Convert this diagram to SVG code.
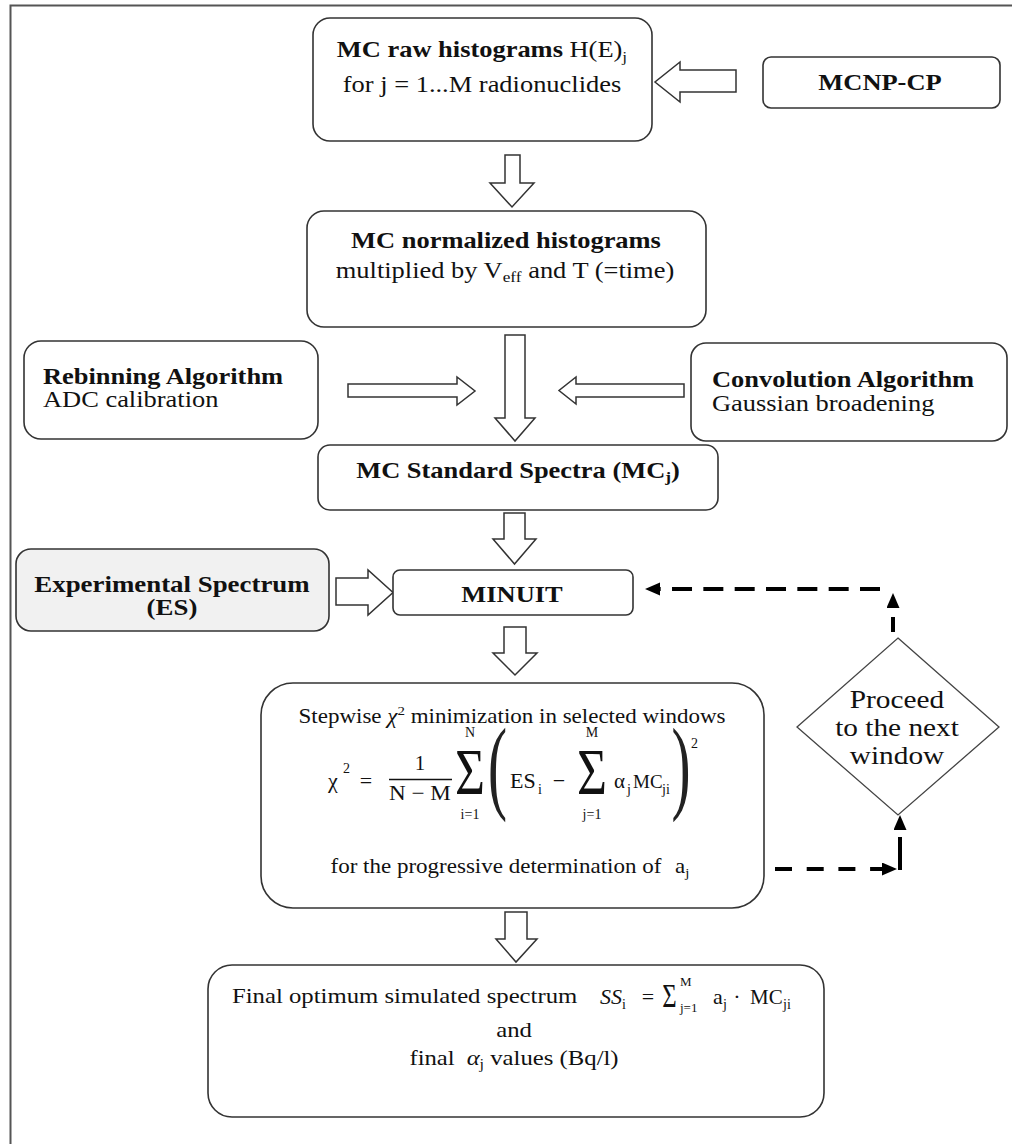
<svg xmlns="http://www.w3.org/2000/svg" width="1012" height="1144" viewBox="0 0 1012 1144">
<style>
  .box { fill: #ffffff; stroke: #333333; stroke-width: 1.6; }
  .gray { fill: #f1f1f1; }
  .blk { fill: #ffffff; stroke: #333333; stroke-width: 1.5; stroke-linejoin: miter; }
  .dash { fill: none; stroke: #000000; stroke-width: 4; }
  text { font-family: "Liberation Serif", "Times New Roman", serif; fill: #111111; }
  .b { font-weight: bold; }
  .t23 { font-size: 23px; }
  .t20 { font-size: 20px; }
  .m { text-anchor: middle; }
  .it { font-style: italic; }
  .paren { font-size: 104px; fill: #222222; }
</style>
<defs>
  <marker id="ah" markerUnits="userSpaceOnUse" markerWidth="16" markerHeight="14" refX="0" refY="6.5" orient="auto">
    <path d="M0,0 L15,6.5 L0,13 z" fill="#000000"/>
  </marker>
</defs>
<rect width="1012" height="1144" fill="#ffffff"/>
<path d="M10.5,1144 V5.5 H1012" fill="none" stroke="#555555" stroke-width="2"/>

<g id="connectors">
  <polygon class="blk" points="736,70 680,70 680,62 655,82 680,102 680,92 736,92"/>
  <polygon class="blk" points="505,155 520,155 520,183 534,183 512,207 490,183 505,183"/>
  <polygon class="blk" points="505,335 525,335 525,418 535,418 515,441 495,418 505,418"/>
  <polygon class="blk" points="348,384 457,384 457,377 475,391 457,405 457,397 348,397"/>
  <polygon class="blk" points="684,384 576,384 576,377 559,390.5 576,404 576,397 684,397"/>
  <polygon class="blk" points="504,513 525,513 525,539 536,539 514.5,564 493,539 504,539"/>
  <polygon class="blk" points="336,578 368,578 368,570 393,592.5 368,615 368,605 336,605"/>
  <polygon class="blk" points="504,627 526,627 526,653 537,653 515,675 493,653 504,653"/>
  <polygon class="blk" points="505,912 527,912 527,939 537,939 516,962 496,939 505,939"/>
  <path class="dash" d="M893,632 V608" stroke-dasharray="15 10" marker-end="url(#ah)"/>
  <path class="dash" d="M880,589 H660" stroke-dasharray="20 11.33" marker-end="url(#ah)"/>
  <path class="dash" d="M775,869 H882" stroke-dasharray="17 14.7" marker-end="url(#ah)"/>
  <path class="dash" d="M900,870 V830" stroke-dasharray="33 7" marker-end="url(#ah)"/>
</g>

<g id="node-raw">
  <rect class="box" x="313" y="18" width="339" height="123" rx="17"/>
  <text class="t23 m" transform="translate(482,57) scale(1.15,1)"><tspan class="b">MC raw histograms</tspan> H(E)<tspan font-size="15" dy="5">j</tspan></text>
  <text class="t23 m" transform="translate(482,92) scale(1.15,1)">for j = 1...M radionuclides</text>
</g>

<g id="node-mcnp">
  <rect class="box" x="763" y="57" width="237" height="51" rx="8"/>
  <text class="t23 m b" transform="translate(880,90) scale(1.15,1)">MCNP-CP</text>
</g>

<g id="node-normalized">
  <rect class="box" x="307" y="211" width="399" height="116" rx="17"/>
  <text class="t23 m b" transform="translate(506,248) scale(1.15,1)">MC normalized histograms</text>
  <text class="t23 m" transform="translate(505,278) scale(1.15,1)">multiplied by V<tspan font-size="15" dy="4">eff</tspan><tspan dy="-4"> and  T (=time)</tspan></text>
</g>

<g id="node-rebinning">
  <rect class="box" x="24" y="341" width="294" height="98" rx="17"/>
  <text class="t23 b" transform="translate(43,384) scale(1.15,1)">Rebinning Algorithm</text>
  <text class="t23" transform="translate(43,407) scale(1.15,1)">ADC calibration</text>
</g>

<g id="node-convolution">
  <rect class="box" x="691" y="343" width="316" height="98" rx="15"/>
  <text class="t23 b" transform="translate(712,387) scale(1.15,1)">Convolution Algorithm</text>
  <text class="t23" transform="translate(712,411) scale(1.15,1)">Gaussian broadening</text>
</g>

<g id="node-standard">
  <rect class="box" x="318" y="445" width="400" height="65" rx="12"/>
  <text class="t23 m b" transform="translate(518,478) scale(1.15,1)">MC Standard Spectra (MC<tspan font-size="15" dy="4">j</tspan><tspan dy="-4">)</tspan></text>
</g>

<g id="node-experimental">
  <rect class="box gray" x="16" y="549" width="313" height="82" rx="15"/>
  <text class="b m" font-size="24" transform="translate(172,592) scale(1.12,1)">Experimental Spectrum</text>
  <text class="b m" font-size="24" transform="translate(172,615) scale(1.12,1)">(ES)</text>
</g>

<g id="node-minuit">
  <rect class="box" x="393" y="570" width="240" height="45" rx="7"/>
  <text class="t23 m b" transform="translate(512,602) scale(1.15,1)">MINUIT</text>
</g>

<g id="node-stepwise">
  <rect class="box" x="261" y="683" width="503" height="225" rx="32"/>
  <text class="t20 m" transform="translate(512,723) scale(1.15,1)">Stepwise <tspan class="it">χ</tspan><tspan font-size="13" dy="-8">2</tspan><tspan dy="8"> minimization in selected windows</tspan></text>
  <text font-size="22" x="328" y="788">χ</text>
  <text font-size="14" x="343" y="773">2</text>
  <text font-size="22" class="m" x="366" y="788">=</text>
  <text font-size="21" class="m" x="420" y="770">1</text>
  <line x1="389" y1="779.5" x2="452" y2="779.5" stroke="#111111" stroke-width="1.3"/>
  <text font-size="21" class="m" transform="translate(420,800) scale(1.1,1)">N − M</text>
  <text font-size="66" class="m" transform="translate(470,794) scale(0.78,1)">Σ</text>
  <text font-size="14" class="m" x="470" y="737">N</text>
  <text font-size="14" class="m" x="470" y="819">i=1</text>
  <text class="paren m" transform="translate(497.5,800) scale(0.55,1)">(</text>
  <text font-size="22" x="510" y="788">ES</text>
  <text font-size="14" x="538" y="794">i</text>
  <text font-size="22" class="m" x="559" y="788">−</text>
  <text font-size="66" class="m" transform="translate(592,794) scale(0.78,1)">Σ</text>
  <text font-size="14" class="m" x="592" y="737">M</text>
  <text font-size="14" class="m" x="592" y="819">j=1</text>
  <text font-size="21" x="614" y="788">α</text>
  <text font-size="14" x="627" y="794">j</text>
  <text font-size="19" x="633" y="788">MC</text>
  <text font-size="14" x="662" y="794">ji</text>
  <text class="paren m" transform="translate(681,800) scale(0.55,1)">)</text>
  <text font-size="14" x="691" y="748">2</text>
  <text class="t20 m" transform="translate(510,873) scale(1.15,1)">for the progressive determination of<tspan dx="12">a</tspan><tspan font-size="13" dy="4">j</tspan></text>
</g>

<g id="node-diamond">
  <polygon points="898,638 999,727 898,815 797,727" fill="#ffffff" stroke="#444444" stroke-width="1.3"/>
  <text class="m" font-size="25.5" transform="translate(897,708) scale(1.15,1)">Proceed</text>
  <text class="m" font-size="25.5" transform="translate(897,736) scale(1.15,1)">to the next</text>
  <text class="m" font-size="25.5" transform="translate(897,764) scale(1.15,1)">window</text>
</g>

<g id="node-final">
  <rect class="box" x="208" y="965" width="616" height="152" rx="24"/>
  <text font-size="21.5" transform="translate(232,1003) scale(1.15,1)">Final optimum simulated spectrum</text>
  <text font-size="22" class="it" x="600" y="1004">SS</text>
  <text font-size="14" x="622" y="1009">i</text>
  <text font-size="22" class="m" x="648" y="1004">=</text>
  <text font-size="33" class="m" transform="translate(669.5,1007) scale(0.75,1)">Σ</text>
  <text font-size="13" x="680" y="986">M</text>
  <text font-size="13" x="680" y="1012">j=1</text>
  <text font-size="22" x="713" y="1004">a</text>
  <text font-size="14" x="723" y="1009">j</text>
  <text font-size="22" class="m" x="737" y="1004">·</text>
  <text font-size="21" x="750" y="1004">MC</text>
  <text font-size="14" x="783" y="1009">ji</text>
  <text font-size="21.5" class="m" transform="translate(514,1037) scale(1.15,1)">and</text>
  <text font-size="21.5" class="m" transform="translate(514,1065) scale(1.15,1)">final <tspan class="it" dx="5">α</tspan><tspan font-size="14" dy="4">j</tspan><tspan dy="-4"> values (Bq/l)</tspan></text>
</g>
</svg>
